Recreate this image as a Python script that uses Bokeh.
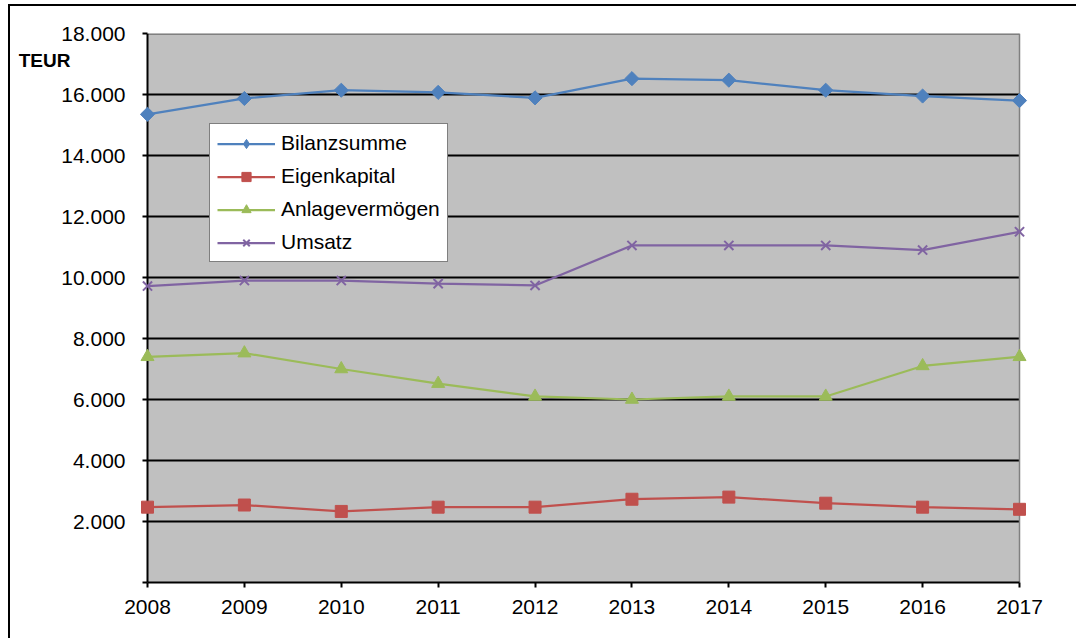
from bokeh.plotting import figure
from bokeh.models import Range1d, FixedTicker, BoxAnnotation, Legend, LegendItem, LinearAxis
from bokeh.embed import file_html
from bokeh.resources import INLINE
import numpy as np

# ---- data ----
years = [2008, 2009, 2010, 2011, 2012, 2013, 2014, 2015, 2016, 2017]
bilanzsumme = [15350, 15870, 16140, 16070, 15890, 16520, 16470, 16140, 15950, 15800]
eigenkapital = [2470, 2540, 2330, 2470, 2470, 2730, 2800, 2600, 2470, 2400]
anlagevermoegen = [7400, 7520, 7000, 6520, 6100, 6000, 6100, 6100, 7100, 7400]
umsatz = [9720, 9900, 9900, 9800, 9740, 11050, 11050, 11050, 10900, 11500]
series_names = ["Bilanzsumme", "Eigenkapital", "Anlagevermögen", "Umsatz"]
y_ticks = [0, 2000, 4000, 6000, 8000, 10000, 12000, 14000, 16000, 18000]
y_labels = ["", "2.000", "4.000", "6.000", "8.000", "10.000", "12.000", "14.000", "16.000", "18.000"]
unit_label = "TEUR"

FONT = "Liberation Sans"
FRAME_W, FRAME_H = 888, 549
pad = 8 / ((FRAME_W - 16) / 9)
CANVAS_X, CANVAS_Y = 10, 6          # where the canvas lands on the page (margin + border)
FRAME_LEFT, FRAME_TOP = 139, 33      # page coordinates of the plot frame

W, H = 1068, 634
p = figure(width=W, height=H,
           x_range=Range1d(years[0] - pad, years[-1] + pad),
           y_range=Range1d(y_ticks[0], y_ticks[-1]),
           output_backend="svg", toolbar_location=None,
           min_border_left=FRAME_LEFT - CANVAS_X,
           min_border_right=W - (FRAME_LEFT - CANVAS_X) - FRAME_W,
           min_border_top=FRAME_TOP - CANVAS_Y,
           min_border_bottom=H - (FRAME_TOP - CANVAS_Y) - FRAME_H)
p.styles = {"border-left": "2px solid black", "border-top": "2px solid black",
            "margin-left": "8px", "margin-top": "4px"}
p.background_fill_color = "white"
p.border_fill_color = "white"
p.outline_line_color = None
p.grid.visible = False

# plot area background
p.add_layout(BoxAnnotation(left=years[0], right=years[-1], bottom=y_ticks[0], top=y_ticks[-1],
                           fill_color="#C0C0C0", fill_alpha=1, line_color=None, level="underlay"))

# gridlines
inner = y_ticks[1:-1]
p.segment(x0=[years[0]] * len(inner), x1=[years[-1]] * len(inner), y0=inner, y1=inner,
          line_color="black", line_width=2)
# top / right border of plot area
p.segment(x0=[years[0]], x1=[years[-1]], y0=[y_ticks[-1]], y1=[y_ticks[-1]],
          line_color="#808080", line_width=3)
p.segment(x0=[years[-1]], x1=[years[-1]], y0=[y_ticks[0]], y1=[y_ticks[-1]],
          line_color="#808080", line_width=1.5)
# y axis line at first year
p.segment(x0=[years[0]], x1=[years[0]], y0=[y_ticks[0]], y1=[y_ticks[-1]],
          line_color="black", line_width=2)

# axes
yax = p.yaxis[0]
yax.ticker = FixedTicker(ticks=y_ticks)
yax.major_label_overrides = {t: l for t, l in zip(y_ticks, y_labels)}
yax.axis_line_color = None
yax.major_tick_in = 8
yax.major_tick_out = -3
yax.major_tick_line_color = "black"
yax.major_tick_line_width = 2
yax.minor_tick_line_color = None
yax.major_label_text_font = FONT
yax.major_label_text_font_size = "21px"
yax.major_label_text_color = "black"
yax.major_label_standoff = 14

# unit label, drawn as a second left axis with a single labelled tick
unit_y = y_ticks[-1] - 27 * (y_ticks[-1] - y_ticks[0]) / FRAME_H
uax = LinearAxis(ticker=FixedTicker(ticks=[unit_y]),
                 major_label_overrides={unit_y: unit_label})
uax.axis_line_color = None
uax.major_tick_line_color = None
uax.minor_tick_line_color = None
uax.major_tick_in = 0
uax.major_tick_out = 0
uax.major_label_standoff = -12
uax.major_label_text_font = FONT
uax.major_label_text_font_size = "19px"
uax.major_label_text_font_style = "bold"
uax.major_label_text_color = "black"
p.add_layout(uax, "left")

xax = p.xaxis[0]
xax.ticker = FixedTicker(ticks=years)
xax.bounds = (years[0], years[-1])
xax.axis_line_color = "black"
xax.axis_line_width = 2
xax.major_tick_in = 0
xax.major_tick_out = 5
xax.major_tick_line_color = "black"
xax.major_tick_line_width = 2
xax.minor_tick_line_color = None
xax.major_label_text_font = FONT
xax.major_label_text_font_size = "21px"
xax.major_label_text_color = "black"
xax.major_label_standoff = 12

# series
colors = ["#4F81BD", "#C0504D", "#9BBB59", "#8064A2"]
values = [bilanzsumme, eigenkapital, anlagevermoegen, umsatz]
items = []
for name, vals, col in zip(series_names, values, colors):
    ln = p.line(years, vals, line_color=col, line_width=2.25)
    if name == "Bilanzsumme":
        sc = p.scatter(years, vals, marker="square", size=10, angle=np.pi / 4,
                       fill_color=col, line_color=col)
        lg = p.scatter(years, vals, marker="diamond", size=14, fill_color=col, line_color=col,
                       visible=False)
        rs = [ln, lg]
    elif name == "Eigenkapital":
        sc = p.scatter(years, vals, marker="square", size=12, fill_color=col, line_color=col)
        rs = [ln, sc]
    elif name == "Anlagevermögen":
        sc = p.scatter(years, vals, marker="triangle", size=13, fill_color=col, line_color=col)
        rs = [ln, sc]
    else:
        sc = p.scatter(years, vals, marker="x", size=13, line_color=col, line_width=2)
        rs = [ln, sc]
    items.append(LegendItem(label=name, renderers=rs))

legend = Legend(items=items, location=(209 - FRAME_LEFT, 320))
legend.border_line_color = "black"
legend.border_line_width = 1.5
legend.background_fill_color = "white"
legend.background_fill_alpha = 1
legend.label_text_font = FONT
legend.label_text_font_size = "21px"
legend.label_text_color = "black"
legend.glyph_width = 58
legend.glyph_height = 23
legend.label_height = 23
legend.spacing = 9
legend.padding = 7
legend.label_standoff = 6
legend.margin = 0
legend.click_policy = "none"
p.add_layout(legend)

open("out.html", "w").write(file_html(p, INLINE))
